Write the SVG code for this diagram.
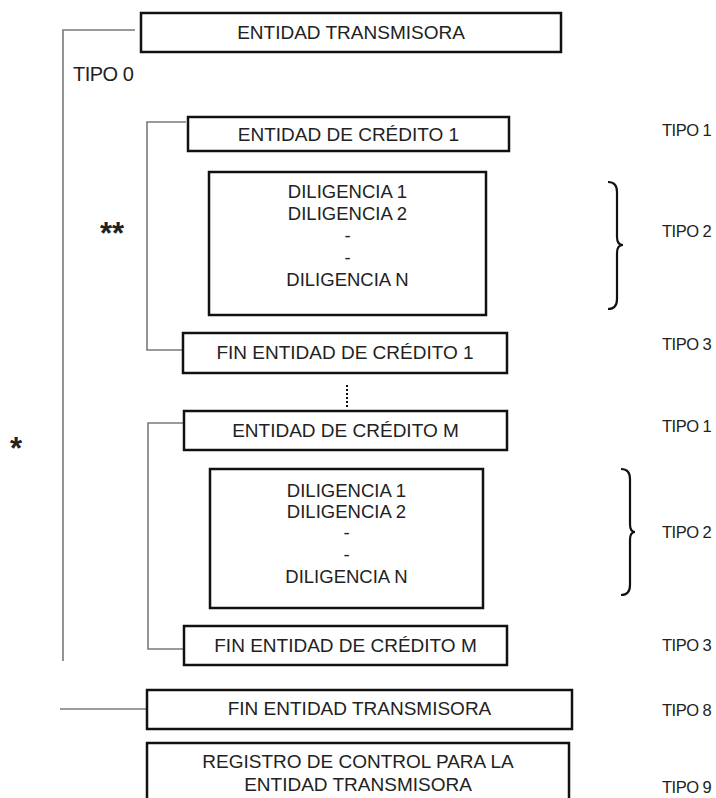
<svg xmlns="http://www.w3.org/2000/svg" width="716" height="798" viewBox="0 0 716 798">
<style>
.box{fill:#fff;stroke:#111;stroke-width:2.5}
.t{font-family:"Liberation Sans",Arial,sans-serif;font-size:19px;fill:#222;text-anchor:middle}
.d{font-family:"Liberation Sans",Arial,sans-serif;font-size:18.5px;fill:#222;text-anchor:middle}
.tipo{font-family:"Liberation Sans",Arial,sans-serif;font-size:16.5px;fill:#222;letter-spacing:-0.5px}
.c{fill:none;stroke:#7a7a7a;stroke-width:1.6}
.br{fill:none;stroke:#111;stroke-width:2.2}
.st{font-family:"Liberation Sans",Arial,sans-serif;font-size:31px;font-weight:bold;fill:#222}
</style>
<rect width="716" height="798" fill="#fff"/>
<g id="connectors">
<polyline class="c" points="135,30 63,30 63,661"/>
<polyline class="c" points="186,122 147,122 147,350 182,350"/>
<polyline class="c" points="184,423 148,423 148,649 184,649"/>
<line class="c" x1="60" y1="709" x2="147" y2="709"/>
<line x1="347" y1="385" x2="347" y2="409" stroke="#111" stroke-width="2" stroke-dasharray="2,2"/>
</g>
<g id="n_entidad_transmisora"><rect class="box" x="141" y="13" width="420" height="39"/><text class="t" x="351" y="39">ENTIDAD TRANSMISORA</text></g>
<g id="n_tipo0"><text class="tipo" x="73" y="81" style="font-size:20px">TIPO 0</text></g>
<g id="n_credito1"><rect class="box" x="188" y="117" width="321" height="34"/><text class="t" x="348.5" y="141">ENTIDAD DE CRÉDITO 1</text></g>
<g id="n_dilig1"><rect class="box" x="209" y="172" width="277" height="143"/>
<text class="d" x="347.5" y="198">DILIGENCIA 1</text>
<text class="d" x="347.5" y="220">DILIGENCIA 2</text>
<text class="d" x="347.5" y="242">-</text>
<text class="d" x="347.5" y="264">-</text>
<text class="d" x="347.5" y="286">DILIGENCIA N</text></g>
<g id="n_fin_credito1"><rect class="box" x="183" y="333" width="324" height="40"/><text class="t" x="345" y="359">FIN ENTIDAD DE CRÉDITO 1</text></g>
<g id="n_creditoM"><rect class="box" x="184" y="411" width="323" height="39"/><text class="t" x="345.5" y="437">ENTIDAD DE CRÉDITO M</text></g>
<g id="n_dilig2"><rect class="box" x="210" y="469" width="273" height="139"/>
<text class="d" x="346.5" y="497">DILIGENCIA 1</text>
<text class="d" x="346.5" y="518">DILIGENCIA 2</text>
<text class="d" x="346.5" y="539">-</text>
<text class="d" x="346.5" y="561">-</text>
<text class="d" x="346.5" y="583">DILIGENCIA N</text></g>
<g id="n_fin_creditoM"><rect class="box" x="184" y="626" width="323" height="39"/><text class="t" x="345.5" y="652">FIN ENTIDAD DE CRÉDITO M</text></g>
<g id="n_fin_transmisora"><rect class="box" x="147" y="690" width="425" height="39"/><text class="t" x="359.5" y="715">FIN ENTIDAD TRANSMISORA</text></g>
<g id="n_registro"><rect class="box" x="147" y="743" width="422" height="70"/>
<text class="t" x="358" y="768">REGISTRO DE CONTROL PARA LA</text>
<text class="t" x="358" y="791">ENTIDAD TRANSMISORA</text></g>
<g id="n_stars"><text class="st" x="100" y="244">**</text><text class="st" x="10" y="459">*</text></g>
<g id="n_braces">
<path class="br" d="M608,182 Q617,182 617,192 L617,237 Q617,245 623,245 Q617,245 617,253 L617,299 Q617,309 608,309"/>
<path class="br" d="M621,469 Q630,469 630,479 L630,524 Q630,532 635,532 Q630,532 630,540 L630,585 Q630,595 621,595"/>
</g>
<g id="n_tipos">
<text class="tipo" x="662" y="136">TIPO 1</text>
<text class="tipo" x="662" y="237">TIPO 2</text>
<text class="tipo" x="662" y="350">TIPO 3</text>
<text class="tipo" x="662" y="432">TIPO 1</text>
<text class="tipo" x="662" y="538">TIPO 2</text>
<text class="tipo" x="662" y="651">TIPO 3</text>
<text class="tipo" x="662" y="716">TIPO 8</text>
<text class="tipo" x="662" y="793">TIPO 9</text>
</g>
</svg>
